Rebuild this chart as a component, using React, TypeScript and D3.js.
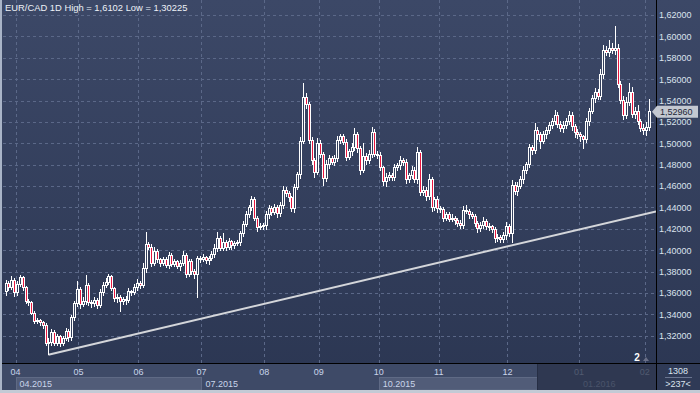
import React, { useEffect, useRef } from "react";
import * as d3 from "d3";

// daily closes, EUR/CAD, end of March 2015 .. 2 Feb 2016
const closes = [
  1.369, 1.365, 1.372, 1.36, 1.368, 1.374, 1.365, 1.352, 1.351, 1.341,
  1.333, 1.334, 1.332, 1.33, 1.313, 1.314, 1.323, 1.313, 1.319, 1.313,
  1.317, 1.324, 1.318, 1.337, 1.35, 1.363, 1.349, 1.352, 1.367, 1.351,
  1.35, 1.353, 1.348, 1.36, 1.367, 1.37, 1.375, 1.364, 1.355, 1.356,
  1.352, 1.354, 1.353, 1.361, 1.36, 1.365, 1.369, 1.367, 1.383, 1.405,
  1.403, 1.388, 1.399, 1.391, 1.388, 1.391, 1.386, 1.395, 1.387, 1.389,
  1.385, 1.388, 1.395, 1.377, 1.389, 1.38, 1.377, 1.392, 1.391, 1.393,
  1.39, 1.392, 1.396, 1.402, 1.411, 1.402, 1.407, 1.403, 1.408, 1.404,
  1.406, 1.407, 1.416, 1.424, 1.433, 1.44, 1.447, 1.43, 1.421, 1.422,
  1.423, 1.433, 1.439, 1.435, 1.44, 1.434, 1.442, 1.456, 1.453, 1.449,
  1.439, 1.459, 1.471, 1.502, 1.543, 1.536, 1.503, 1.484, 1.473, 1.5,
  1.49, 1.467, 1.48, 1.486, 1.482, 1.486, 1.503, 1.506, 1.501, 1.487,
  1.492, 1.496, 1.508, 1.495, 1.475, 1.488, 1.484, 1.49, 1.51, 1.49,
  1.489, 1.477, 1.464, 1.468, 1.47, 1.468, 1.477, 1.479, 1.484, 1.482,
  1.466, 1.47, 1.475, 1.466, 1.491, 1.454, 1.456, 1.45, 1.466, 1.44,
  1.447, 1.439, 1.438, 1.43, 1.433, 1.429, 1.43, 1.428, 1.425, 1.423,
  1.437, 1.436, 1.433, 1.432, 1.425, 1.42, 1.423, 1.427, 1.422, 1.422,
  1.419, 1.411, 1.412, 1.41, 1.414, 1.422, 1.416, 1.461, 1.455, 1.46,
  1.466, 1.475, 1.48, 1.496, 1.493, 1.512, 1.508, 1.502, 1.508, 1.512,
  1.517, 1.52, 1.526, 1.518, 1.514, 1.517, 1.52, 1.526, 1.516, 1.51,
  1.508, 1.506, 1.504, 1.52, 1.53, 1.542, 1.548, 1.544, 1.564, 1.587,
  1.585, 1.589, 1.587, 1.589, 1.555, 1.54, 1.526, 1.538, 1.548, 1.527,
  1.53, 1.52, 1.514, 1.512, 1.515, 1.5296,
];
const firstOpen = 1.361;

// wick lengths in pips above / below the body
const upperWick = [
  30, 25, 35, 20, 30, 25, 20, 15, 20, 15, 20, 30, 15, 20, 20, 40, 35, 25, 30, 20,
  25, 30, 20, 20, 25, 80, 30, 40, 100, 25, 20, 30, 25, 35, 30, 40, 25, 20, 15, 30,
  20, 25, 30, 35, 20, 30, 40, 20, 50, 120, 30, 25, 40, 20, 20, 30, 25, 35, 20, 30,
  20, 25, 40, 20, 30, 25, 20, 30, 25, 30, 20, 25, 30, 40, 60, 25, 90, 30, 35, 20,
  25, 30, 20, 30, 35, 20, 40, 25, 20, 30, 25, 40, 30, 25, 30, 20, 35, 40, 30, 25,
  20, 30, 25, 40, 130, 40, 30, 30, 25, 50, 30, 20, 40, 30, 25, 35, 40, 30, 25, 30,
  30, 40, 60, 30, 25, 120, 30, 40, 50, 30, 25, 30, 20, 40, 30, 25, 35, 30, 40, 25,
  30, 20, 40, 30, 60, 30, 40, 30, 50, 25, 30, 35, 25, 20, 30, 25, 35, 20, 25, 30,
  40, 50, 25, 30, 20, 25, 30, 40, 25, 30, 20, 25, 30, 20, 35, 40, 25, 50, 30, 40,
  30, 40, 30, 35, 25, 70, 30, 25, 40, 35, 30, 40, 50, 30, 25, 40, 35, 45, 30, 25,
  30, 25, 20, 40, 35, 30, 40, 30, 60, 50, 40, 80, 50, 212, 40, 30, 40, 50, 80, 50,
  40, 60, 30, 40, 50, 115,
];
const lowerWick = [
  40, 30, 25, 40, 30, 20, 30, 25, 30, 20, 25, 20, 30, 40, 30, 108, 35, 30, 25, 40,
  30, 20, 35, 25, 30, 30, 40, 25, 30, 35, 40, 30, 30, 25, 30, 20, 30, 25, 30, 40,
  100, 30, 40, 25, 30, 20, 35, 30, 25, 40, 30, 35, 25, 30, 40, 25, 30, 35, 30, 25,
  30, 40, 25, 30, 25, 35, 40, 220, 30, 25, 30, 35, 25, 30, 40, 30, 25, 35, 30, 40,
  30, 25, 30, 40, 25, 30, 35, 30, 40, 25, 30, 40, 35, 30, 25, 40, 30, 35, 30, 40,
  30, 40, 30, 40, 30, 40, 35, 40, 50, 30, 40, 70, 30, 40, 25, 35, 30, 40, 30, 35,
  30, 40, 35, 40, 50, 30, 40, 35, 40, 30, 35, 30, 40, 50, 30, 35, 30, 25, 40, 30,
  40, 30, 35, 30, 40, 35, 30, 40, 30, 40, 30, 40, 30, 35, 30, 25, 30, 40, 30, 35,
  30, 25, 40, 30, 35, 40, 30, 30, 35, 40, 30, 40, 35, 30, 30, 40, 35, 90, 30, 40,
  30, 40, 35, 30, 40, 30, 50, 70, 30, 35, 30, 40, 30, 35, 30, 40, 35, 30, 40, 50,
  40, 50, 90, 35, 40, 30, 40, 35, 30, 40, 30, 40, 30, 40, 35, 30, 40, 30, 35, 30,
  40, 30, 35, 40, 50, 30,
];

const yTicks = [
  1.32, 1.34, 1.36, 1.38, 1.4, 1.42, 1.44, 1.46, 1.48, 1.5, 1.52, 1.54, 1.56,
  1.58, 1.6, 1.62,
];
const monthLabels = ["04", "05", "06", "07", "08", "09", "10", "11", "12", "01", "02"];
const monthStarts = [4, 26, 47, 69, 91, 110, 131, 152, 176, 201, 224];
const quarterLabels = ["04.2015", "07.2015", "10.2015", "01.2016"];
const quarterStarts = [4, 69, 131, 201];
const trendPoints = [
  { idx: 15, price: 1.30225 },
  { idx: 177, price: 1.4045 },
];
const lastPrice = 1.5296;
const shadeFrom = 186;
const titleText = "EUR/CAD 1D High = 1,6102 Low = 1,30225";
const barsInfo = ["1308", ">237<"];

function App() {
  const ref = useRef<SVGSVGElement | null>(null);

  useEffect(() => {
    const svg = d3.select(ref.current);
    svg.selectAll("*").remove();

    const W = 700;
    const H = 393;
    const plotRight = 656;
    const plotBottom = 363;
    const font = "'Liberation Sans', Arial, sans-serif";

    const x = d3.scaleLinear().domain([0, closes.length - 1]).range([5.5, 649]);
    const y = d3.scaleLinear().domain([1.32, 1.62]).range([335.7, 15.1]);
    const fmt = (v: number) => d3.format(".5f")(v).replace(".", ",");

    const candles = closes.map((c, i) => {
      const o = i === 0 ? firstOpen : closes[i - 1];
      return {
        i,
        o,
        c,
        h: Math.max(o, c) + upperWick[i] / 10000,
        l: Math.min(o, c) - lowerWick[i] / 10000,
      };
    });

    const defs = svg.append("defs");
    const grad = defs
      .append("linearGradient")
      .attr("id", "bg")
      .attr("x1", 0)
      .attr("y1", 0)
      .attr("x2", 0)
      .attr("y2", 1);
    grad.append("stop").attr("offset", "0%").attr("stop-color", "#3c4867");
    grad.append("stop").attr("offset", "100%").attr("stop-color", "#2b3652");
    defs
      .append("clipPath")
      .attr("id", "plotClip")
      .append("rect")
      .attr("x", 3)
      .attr("y", 0)
      .attr("width", plotRight - 3)
      .attr("height", plotBottom);

    svg.append("rect").attr("width", W).attr("height", H).attr("fill", "url(#bg)");

    // grid
    const grid = svg.append("g").attr("stroke", "#5b6888").attr("stroke-dasharray", "3,3");
    grid
      .selectAll("line.h")
      .data(yTicks)
      .enter()
      .append("line")
      .attr("x1", 3)
      .attr("x2", plotRight)
      .attr("y1", (d) => Math.round(y(d)) + 0.5)
      .attr("y2", (d) => Math.round(y(d)) + 0.5);
    grid
      .selectAll("line.v")
      .data(monthStarts)
      .enter()
      .append("line")
      .attr("x1", (d) => Math.round(x(d - 0.5)) + 0.5)
      .attr("x2", (d) => Math.round(x(d - 0.5)) + 0.5)
      .attr("y1", 0)
      .attr("y2", plotBottom);

    const plot = svg.append("g").attr("clip-path", "url(#plotClip)");

    // trend line
    const slope =
      (trendPoints[1].price - trendPoints[0].price) / (trendPoints[1].idx - trendPoints[0].idx);
    const endIdx = x.invert(plotRight);
    plot
      .append("line")
      .attr("x1", x(trendPoints[0].idx))
      .attr("y1", y(trendPoints[0].price))
      .attr("x2", x(endIdx))
      .attr("y2", y(trendPoints[0].price + slope * (endIdx - trendPoints[0].idx)))
      .attr("stroke", "#d4d6da")
      .attr("stroke-width", 2);

    // candles
    const cg = plot.append("g").attr("shape-rendering", "crispEdges");
    cg.selectAll("line.wick")
      .data(candles)
      .enter()
      .append("line")
      .attr("x1", (d) => Math.round(x(d.i)) + 0.5)
      .attr("x2", (d) => Math.round(x(d.i)) + 0.5)
      .attr("y1", (d) => y(d.h))
      .attr("y2", (d) => y(d.l))
      .attr("stroke", "#ffffff");
    cg.selectAll("rect.body")
      .data(candles)
      .enter()
      .append("rect")
      .attr("x", (d) => Math.round(x(d.i)) - 0.5)
      .attr("y", (d) => y(Math.max(d.o, d.c)))
      .attr("width", 2)
      .attr("height", (d) => Math.max(1, Math.abs(y(d.o) - y(d.c))))
      .attr("fill", (d) => (d.c < d.o ? "#e8173f" : "#34405d"))
      .attr("stroke", "#ffffff");

    // marker near bottom right
    svg
      .append("text")
      .attr("x", 637)
      .attr("y", 361)
      .attr("fill", "#ffffff")
      .attr("font-family", font)
      .attr("font-size", 10)
      .attr("font-weight", "bold")
      .attr("text-anchor", "middle")
      .text("2");
    svg
      .append("path")
      .attr("d", "M643,361 L649,361 L646,357 Z")
      .attr("fill", "#6a6f86");

    // right axis
    svg
      .append("line")
      .attr("x1", plotRight + 0.5)
      .attr("x2", plotRight + 0.5)
      .attr("y1", 0)
      .attr("y2", 390)
      .attr("stroke", "#000000");
    svg
      .selectAll("text.ytick")
      .data(yTicks)
      .enter()
      .append("text")
      .attr("x", 659)
      .attr("y", (d) => y(d) + 3.3)
      .attr("fill", "#dbe3ee")
      .attr("font-family", font)
      .attr("font-size", 9)
      .text((d) => fmt(d));

    // last price tag
    const ty = y(lastPrice);
    svg
      .append("path")
      .attr(
        "d",
        `M652,${ty} L657,${ty - 6} L698,${ty - 6} L698,${ty + 6} L657,${ty + 6} Z`
      )
      .attr("fill", "#c3c8d1");
    svg
      .append("text")
      .attr("x", 660)
      .attr("y", ty + 3.3)
      .attr("fill", "#1e2636")
      .attr("font-family", font)
      .attr("font-size", 9)
      .text(fmt(lastPrice));

    // bottom axis
    svg
      .append("rect")
      .attr("x", 0)
      .attr("y", plotBottom)
      .attr("width", plotRight)
      .attr("height", 27)
      .attr("fill", "#3e4a67");
    const qEnd = [...quarterStarts.slice(1), closes.length];
    quarterStarts.forEach((q, k) => {
      if (k % 2 === 0 && k < 3) {
        const x0 = Math.round(x(q - 0.5)) + 0.5;
        const x1 = Math.min(Math.round(x(qEnd[k] - 0.5)) + 0.5, Math.round(x(shadeFrom)) + 0.5);
        svg
          .append("rect")
          .attr("x", x0)
          .attr("y", 377.5)
          .attr("width", x1 - x0)
          .attr("height", 12.5)
          .attr("fill", "#515c78")
          .attr("stroke", "#5f6a85");
      }
    });
    svg
      .append("line")
      .attr("x1", 0)
      .attr("x2", W)
      .attr("y1", plotBottom + 0.5)
      .attr("y2", plotBottom + 0.5)
      .attr("stroke", "#000000");

    svg
      .selectAll("text.month")
      .data(monthStarts)
      .enter()
      .append("text")
      .attr("x", (d) => x(d - 0.5))
      .attr("y", 375)
      .attr("text-anchor", "middle")
      .attr("fill", (d) => (d >= shadeFrom ? "#7d879e" : "#c9d5ea"))
      .attr("font-family", font)
      .attr("font-size", 9)
      .text((d, k) => monthLabels[k]);
    svg
      .selectAll("text.quarter")
      .data(quarterStarts)
      .enter()
      .append("text")
      .attr("x", (d) => x(d - 0.5) + 4)
      .attr("y", 387)
      .attr("fill", (d) => (d >= shadeFrom ? "#6f7a93" : "#c9d5ea"))
      .attr("font-family", font)
      .attr("font-size", 9)
      .text((d, k) => quarterLabels[k]);

    // shaded tail of the time axis
    const sx = Math.round(x(shadeFrom)) + 0.5;
    svg
      .append("rect")
      .attr("x", sx)
      .attr("y", plotBottom + 1)
      .attr("width", plotRight - sx)
      .attr("height", 26)
      .attr("fill", "#1c2438")
      .attr("opacity", 0.45);
    svg
      .append("line")
      .attr("x1", sx)
      .attr("x2", sx)
      .attr("y1", plotBottom + 1)
      .attr("y2", 390)
      .attr("stroke", "#262e44");

    // bar counter box
    svg
      .append("rect")
      .attr("x", plotRight + 1)
      .attr("y", plotBottom + 1)
      .attr("width", W - plotRight - 1)
      .attr("height", 26)
      .attr("fill", "#2f3a56");
    svg
      .append("line")
      .attr("x1", 665)
      .attr("x2", 692)
      .attr("y1", 377.5)
      .attr("y2", 377.5)
      .attr("stroke", "#6a7590");
    svg
      .selectAll("text.bars")
      .data(barsInfo)
      .enter()
      .append("text")
      .attr("x", 678)
      .attr("y", (d, k) => 374 + k * 12.5)
      .attr("text-anchor", "middle")
      .attr("fill", "#dbe3ee")
      .attr("font-family", font)
      .attr("font-size", 9)
      .text((d) => d);

    // frame
    svg.append("rect").attr("x", 0).attr("y", 390).attr("width", W).attr("height", 3).attr("fill", "#c3cad5");
    svg.append("rect").attr("x", 0).attr("y", 0).attr("width", 2).attr("height", 390).attr("fill", "#a9b4c7");

    // title
    svg
      .append("text")
      .attr("x", 5)
      .attr("y", 11)
      .attr("fill", "#edf1f7")
      .attr("font-family", font)
      .attr("font-size", 9.4)
      .text(titleText);
  }, []);

  return (
    <svg
      ref={ref}
      width={700}
      height={393}
      style={{ position: "absolute", left: 0, top: 0, display: "block" }}
    />
  );
}

export default App;
